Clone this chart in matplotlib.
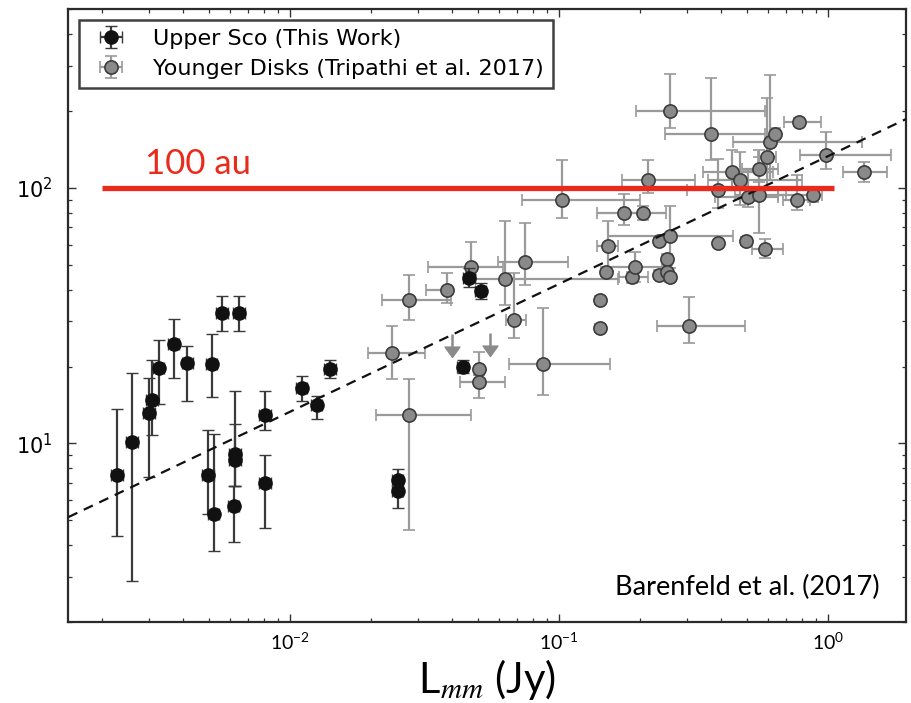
import numpy as np
import matplotlib
matplotlib.use("Agg")
import matplotlib.pyplot as plt
from matplotlib.ticker import NullFormatter, LogLocator

plt.rcParams['mathtext.rm'] = 'Lato'
plt.rcParams['mathtext.it'] = 'Lato:italic'
plt.rcParams['mathtext.bf'] = 'Lato:bold'

# ---- Upper Sco disks (this work) ----
usco_flux = [0.00228, 0.00259, 0.00300, 0.00307, 0.00325, 0.00370, 0.00416,
             0.00511, 0.00561, 0.00646, 0.00497, 0.00521, 0.00626, 0.00626,
             0.00618, 0.00809, 0.00809, 0.01104, 0.01259, 0.01412, 0.0252,
             0.0252, 0.0463, 0.0511, 0.0438]
usco_flux_err = [0.00011, 0.00013, 0.00015, 0.00015, 0.00016, 0.00018, 0.00020,
                 0.00025, 0.00028, 0.00032, 0.00024, 0.00026, 0.00031, 0.00031,
                 0.00030, 0.00040, 0.00040, 0.00055, 0.00062, 0.00070, 0.0012,
                 0.0012, 0.0023, 0.0025, 0.0021]
usco_radius = [7.5, 10.1, 13.1, 14.8, 19.7, 24.5, 20.6, 20.5, 32.3, 32.5,
               7.5, 5.3, 9.1, 8.6, 5.7, 12.9, 7.0, 16.5, 14.1, 19.5,
               7.2, 6.5, 44.2, 39.4, 19.9]
usco_radius_lo = [3.16, 7.21, 5.7, 4.0, 5.4, 6.4, 6.0, 5.3, 4.8, 4.9,
                  2.2, 1.5, 2.3, 1.8, 1.6, 1.6, 2.35, 1.9, 1.6, 1.4,
                  0.6, 0.93, 3.2, 2.8, 1.1]
usco_radius_hi = [6.2, 8.7, 5.0, 6.5, 5.7, 6.3, 3.5, 6.4, 5.5, 5.4,
                  3.8, 5.6, 6.9, 3.3, 1.1, 3.2, 2.0, 1.9, 1.3, 1.7,
                  0.78, 0.7, 4.4, 3.1, 1.3]

# ---- Younger disks (Tripathi et al. 2017) ----
trip_flux = [0.0277, 0.0240, 0.0277, 0.0382, 0.0470, 0.0632, 0.0746, 0.0679,
             0.0503, 0.0503, 0.0873, 0.103, 0.142, 0.142, 0.149, 0.152,
             0.175, 0.206, 0.215, 0.187, 0.191, 0.235, 0.258, 0.252,
             0.235, 0.252, 0.258, 0.305, 0.258, 0.366, 0.391, 0.391,
             0.494, 0.583, 0.438, 0.471, 0.505, 0.554, 0.555, 0.592,
             0.608, 0.635, 0.782, 0.983, 1.361, 0.765, 0.877]
trip_flux_min = [0.0209, 0.0195, 0.0219, 0.0320, 0.0326, 0.0473, 0.0594, 0.0638,
                 0.0490, 0.0428, 0.0650, 0.0731, 0.140, 0.140, 0.146, 0.138,
                 0.1385, 0.170, 0.171, 0.167, 0.152, 0.230, 0.152, 0.247,
                 0.230, 0.247, 0.253, 0.231, 0.193, 0.247, 0.298, 0.385,
                 0.485, 0.520, 0.342, 0.359, 0.380, 0.450, 0.480, 0.550,
                 0.442, 0.620, 0.688, 0.787, 1.134, 0.680, 0.653]
trip_flux_max = [0.0470, 0.0317, 0.0398, 0.0393, 0.0619, 0.166, 0.108, 0.0757,
                 0.0516, 0.0632, 0.155, 0.200, 0.144, 0.144, 0.152, 0.166,
                 0.200, 0.251, 0.320, 0.215, 0.250, 0.240, 0.442, 0.257,
                 0.240, 0.257, 0.263, 0.491, 0.583, 0.583, 0.500, 0.397,
                 0.503, 0.682, 0.626, 0.798, 0.650, 0.700, 0.650, 0.640,
                 1.335, 0.650, 0.939, 1.716, 1.662, 0.860, 0.950]
trip_radius = [12.9, 22.5, 36.4, 40.0, 49.1, 43.8, 51.3, 30.4,
               19.5, 17.4, 20.4, 89.5, 36.4, 28.3, 46.9, 59.1,
               79.8, 79.8, 107.0, 44.6, 49.1, 61.9, 64.7, 52.5,
               45.8, 46.9, 44.6, 28.9, 200.0, 163.0, 98.0, 60.6,
               61.9, 57.6, 115.5, 107.0, 91.7, 93.6, 118.0, 132.0,
               151.0, 163.0, 181.0, 135.0, 115.5, 89.5, 93.6]
trip_radius_min = [4.6, 17.8, 30.4, 35.3, 45.5, 34.8, 41.6, 25.8,
                   18.5, 15.0, 15.5, 75.9, 35.0, 27.2, 45.0, 47.2,
                   71.5, 75.0, 95.1, 42.5, 43.0, 60.0, 48.6, 50.0,
                   44.0, 45.0, 43.0, 24.8, 171.0, 129.0, 83.1, 59.0,
                   60.0, 53.0, 100.0, 85.6, 84.3, 66.3, 105.0, 98.0,
                   107.0, 155.0, 175.0, 118.0, 105.6, 81.8, 88.0]
trip_radius_max = [17.8, 28.8, 45.8, 46.5, 61.5, 74.3, 72.6, 46.3,
                   22.8, 18.5, 33.9, 128.0, 37.8, 29.4, 48.8, 74.3,
                   95.0, 85.0, 128.0, 46.8, 56.2, 64.0, 85.0, 55.0,
                   47.5, 48.5, 46.0, 37.3, 280.0, 268.0, 130.0, 62.0,
                   64.0, 63.0, 140.0, 138.0, 117.0, 140.0, 132.0, 224.0,
                   276.0, 171.0, 188.0, 165.0, 126.4, 112.0, 99.0]

# upper limits on radius
ul_flux = [0.0400, 0.0553]
ul_radius = [26.8, 27.1]

# size-luminosity relation R = norm * L^index
fit_norm = 133.0
fit_index = 0.5

# 100 au reference level
ref_radius = 100.0
ref_flux_span = [0.002, 1.05]

fig = plt.figure(figsize=(9.11, 7.03), dpi=100)
ax = fig.add_axes([0.075, 0.115, 0.9195, 0.872])
ax.set_xscale('log')
ax.set_yscale('log')
xlim = (0.0015, 1.95)
ylim = (2.0, 500.0)

tf = np.array(trip_flux)
tr = np.array(trip_radius)
trip_xerr = [tf - np.array(trip_flux_min), np.array(trip_flux_max) - tf]
trip_yerr = [tr - np.array(trip_radius_min), np.array(trip_radius_max) - tr]

h_trip = ax.errorbar(trip_flux, trip_radius, xerr=trip_xerr, yerr=trip_yerr,
                     fmt='o', ms=9.5, mfc='#8a8a8a', mec='#3c3c3c', mew=1.2,
                     ecolor='#9a9a9a', elinewidth=1.6, capsize=4, capthick=1.4,
                     zorder=2, label='Younger Disks (Tripathi et al. 2017)')

h_usco = ax.errorbar(usco_flux, usco_radius, xerr=usco_flux_err,
                     yerr=[usco_radius_lo, usco_radius_hi],
                     fmt='o', ms=9.5, mfc='#111111', mec='#111111', mew=1.0,
                     ecolor='#3a3a3a', elinewidth=1.6, capsize=4, capthick=1.4,
                     zorder=3, label='Upper Sco (This Work)')

# upper limits: shaft plus filled arrowhead
ul_tip = np.array(ul_radius) * 0.81
ax.vlines(ul_flux, ul_tip * 1.05, ul_radius, colors='#8a8a8a', lw=1.8, zorder=2)
ax.plot(ul_flux, ul_tip, ls='none', marker=[(0, 0), (-1, 1.4), (1, 1.4), (0, 0)],
        ms=15, color='#8a8a8a', mec='#8a8a8a', zorder=2)

# size-luminosity relation
fx = np.logspace(np.log10(xlim[0]), np.log10(xlim[1]), 50)
ax.plot(fx, fit_norm * fx ** fit_index, color='#111111', lw=1.6,
        dashes=(4.5, 3.2), zorder=4)

# 100 au reference line
ax.plot(ref_flux_span, [ref_radius, ref_radius], color='#ea2a1c', lw=3.8,
        solid_capstyle='butt', zorder=5)
ax.text(0.0029, 113, '100 au', color='#ea2a1c', fontsize=25,
        fontfamily='Lato', ha='left', va='baseline', zorder=5)

ax.set_xlim(*xlim)
ax.set_ylim(*ylim)

ax.set_xticks([0.01, 0.1, 1.0],
              [r'$\mathregular{10^{-2}}$', r'$\mathregular{10^{-1}}$', r'$\mathregular{10^{0}}$'],
              fontsize=14, fontfamily='Lato', math_fontfamily='custom')
ax.xaxis.set_minor_locator(LogLocator(base=10, subs=np.arange(2, 10)))
ax.xaxis.set_minor_formatter(NullFormatter())
ax.yaxis.set_minor_formatter(NullFormatter())
ax.tick_params(which='both', direction='in', top=True, right=True, color='#333333')
ax.tick_params(which='major', length=6, width=1.0)
ax.tick_params(which='minor', length=3, width=0.9)
ax.tick_params(axis='x', which='major', pad=7)
ax.tick_params(axis='y', which='major', labelsize=15, pad=11)
for s in ax.spines.values():
    s.set_linewidth(1.6)
    s.set_color('#2a2a2a')

ax.set_xlabel(r'L$_{mm}$ (Jy)', fontsize=30, fontfamily='Lato',
              math_fontfamily='stix', labelpad=3)

ax.text(0.968, 0.045, 'Barenfeld et al. (2017)', transform=ax.transAxes,
        ha='right', va='baseline', fontsize=19.5, fontfamily='Lato')

leg = ax.legend([h_usco, h_trip],
                ['Upper Sco (This Work)', 'Younger Disks (Tripathi et al. 2017)'],
                loc='upper left', fontsize=16, frameon=True, fancybox=False,
                borderaxespad=0.5, borderpad=0.4, handlelength=2.05,
                handletextpad=0.88, labelspacing=0.45)
leg.get_frame().set_edgecolor('#111111')
leg.get_frame().set_linewidth(1.8)
leg.set_zorder(10)

fig.savefig('out.png', dpi=100)
